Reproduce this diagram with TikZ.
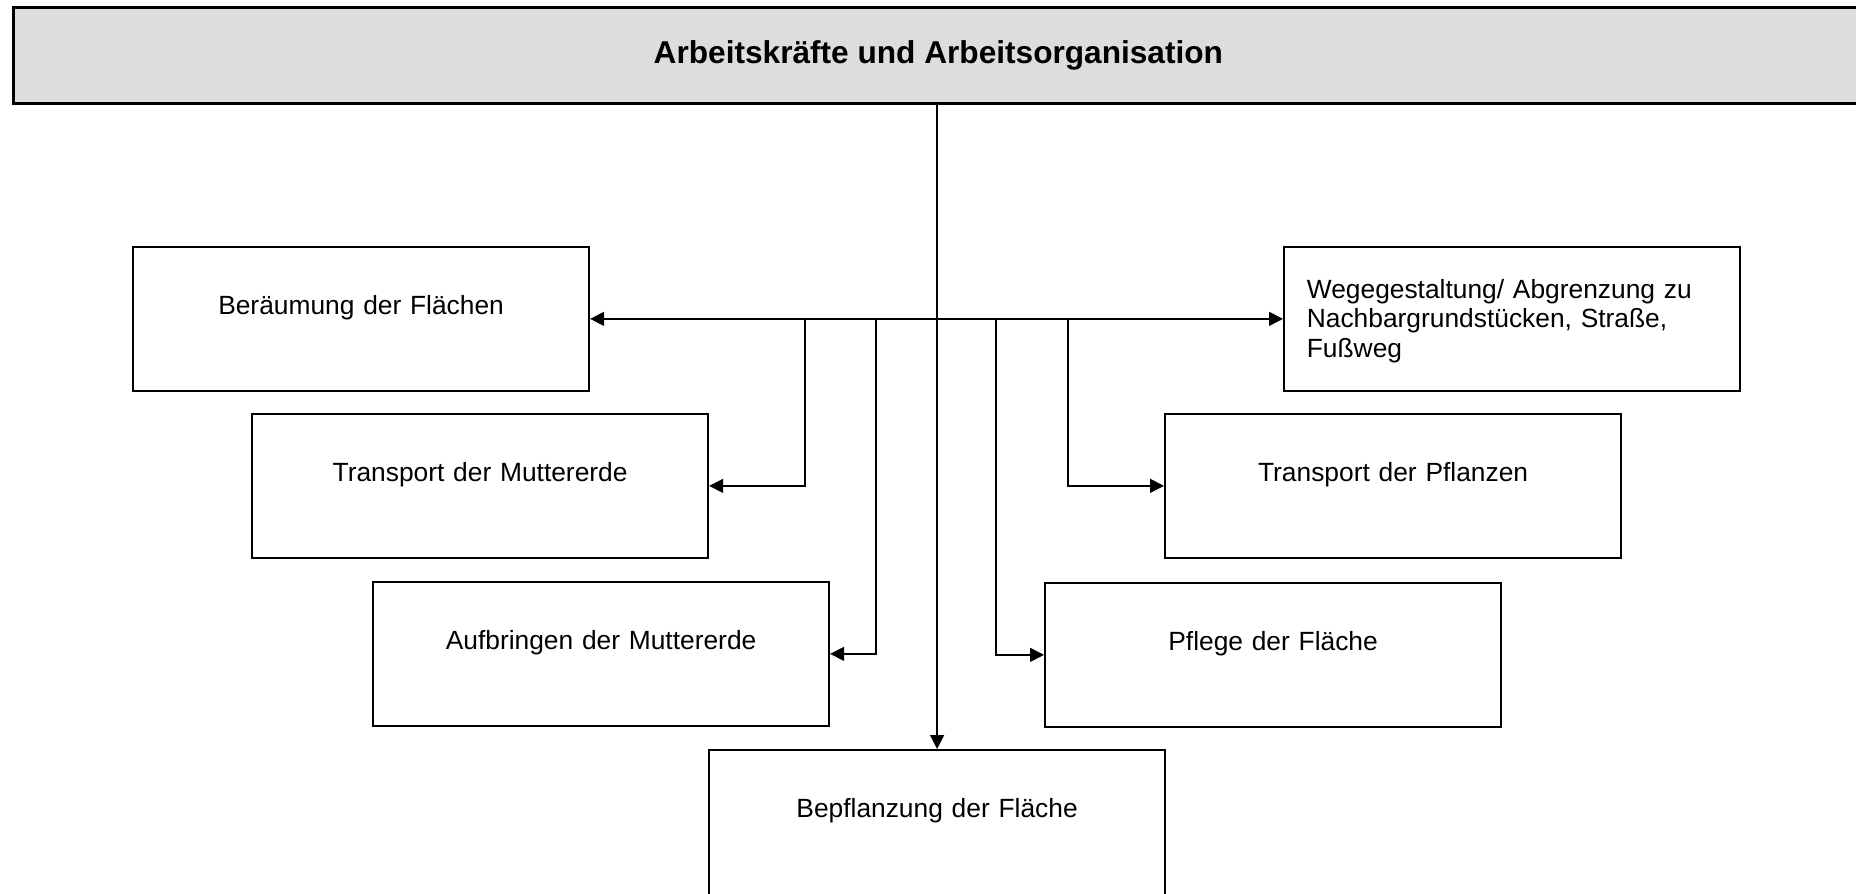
\documentclass[tikz,border=0pt]{standalone}
\usepackage{fontspec}
\setmainfont{Liberation Sans}
\usepackage{xcolor}
\usepackage{tikz}
\usetikzlibrary{positioning,arrows.meta}

\definecolor{headgray}{RGB}{221,221,221}

\begin{document}
\begin{tikzpicture}[
  x=0.02cm, y=-0.02cm,
  box/.style={draw, rectangle, line width=1pt, anchor=north west, inner xsep=0pt, inner ysep=0pt,
    minimum width=9.13cm, minimum height=2.88cm, text width=9.13cm, align=center,
    text height=1.35cm, text depth=1.53cm, font=\fontsize{15}{16.8}\selectfont},
  headbox/.style={draw, rectangle, line width=1.8pt, fill=headgray, anchor=north west,
    minimum width=37cm, minimum height=1.92cm, font=\fontsize{18}{21}\selectfont\bfseries},
  arr/.style={line width=0.9pt, -{Triangle[length=0.28cm, width=0.28cm]}}
]
\useasboundingbox (0,0) rectangle (1856,893);

% Header
\node[headbox] (head) at (12,6) {Arbeitskräfte und Arbeitsorganisation};

% Left column
\node[box] (beraeum) at (132,246) {Beräumung der Flächen};
\node[box] (transme) at (251,413) {Transport der Muttererde};
\node[box] (aufbr) at (372,581) {Aufbringen der Muttererde};

% Middle
\node[box, text depth=1.7cm] (bepfl) at (708,749) {Bepflanzung der Fläche};

% Right column
\node[box] (pflege) at (1044,582) {Pflege der Fläche};
\node[box] (transpf) at (1164,413) {Transport der Pflanzen};
\node[box, text width=8.21cm, align=left, text height=1.03cm, text depth=1.85cm] (wege) at (1283,246)
  {Wegegestaltung/ Abgrenzung zu\\Nachbargrundstücken, Straße,\\Fußweg};

% Branch points on the cross line
\coordinate (j1) at (805,318);
\coordinate (j2) at (876,318);
\coordinate (j3) at (996,318);
\coordinate (j4) at (1068,318);

% Connectors
\draw[arr] (head.south -| bepfl.north) -- (bepfl.north);
\draw[line width=0.9pt, {Triangle[length=0.28cm, width=0.28cm]}-{Triangle[length=0.28cm, width=0.28cm]}] (beraeum.east) -- (wege.west);
\draw[arr] (j1) |- (transme.east);
\draw[arr] (j2) |- (aufbr.east);
\draw[arr] (j3) |- (pflege.west);
\draw[arr] (j4) |- (transpf.west);

\end{tikzpicture}
\end{document}
